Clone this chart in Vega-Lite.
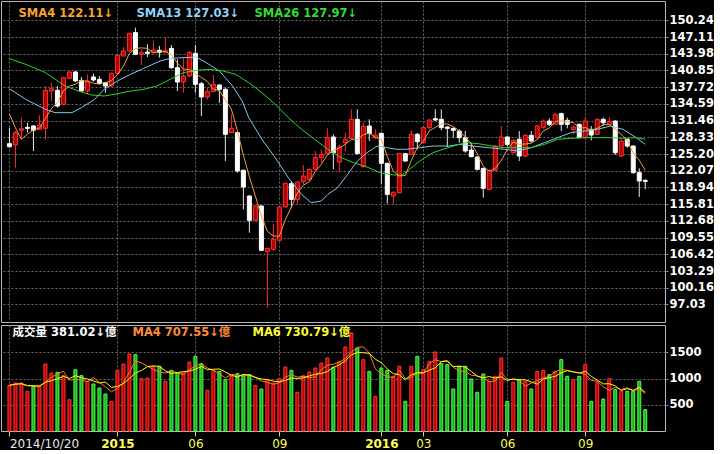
{
"$schema": "https://vega.github.io/schema/vega-lite/v6.json",
"background": "#000000",
"padding": 0,
"spacing": 1,
"config": {
  "view": {"stroke": "#b8b8b8", "strokeWidth": 1},
  "font": "DejaVu Sans",
  "axis": {"gridColor": "#6a6a6a", "gridDash": [2, 2], "gridWidth": 1, "domain": false, "labelColor": "#ffffff", "labelFont": "DejaVu Sans", "title": null}
},
"resolve": {"scale": {"color": "independent"}, "legend": {"color": "independent"}},
"datasets": {
"k": [
{"i":0,"o":127.14,"h":130.14,"l":126.39,"c":126.58,"v":871,"vd":"up"},
{"i":1,"o":126.89,"h":129.51,"l":122.65,"c":129.20,"v":916,"vd":"up"},
{"i":2,"o":129.64,"h":132.01,"l":127.95,"c":129.95,"v":916,"vd":"up"},
{"i":3,"o":130.20,"h":131.07,"l":129.20,"c":130.01,"v":757,"vd":"up"},
{"i":4,"o":130.45,"h":130.64,"l":125.77,"c":129.64,"v":852,"vd":"down"},
{"i":5,"o":129.83,"h":132.45,"l":129.70,"c":130.64,"v":852,"vd":"up"},
{"i":6,"o":130.01,"h":137.94,"l":127.95,"c":137.13,"v":1278,"vd":"up"},
{"i":7,"o":137.00,"h":138.57,"l":135.13,"c":137.44,"v":1107,"vd":"up"},
{"i":8,"o":137.13,"h":137.94,"l":133.88,"c":134.19,"v":1119,"vd":"down"},
{"i":9,"o":134.51,"h":139.63,"l":134.38,"c":139.50,"v":1056,"vd":"up"},
{"i":10,"o":139.38,"h":140.75,"l":139.31,"c":140.56,"v":598,"vd":"up"},
{"i":11,"o":140.56,"h":140.75,"l":138.75,"c":138.88,"v":1170,"vd":"down"},
{"i":12,"o":139.00,"h":139.63,"l":136.88,"c":137.00,"v":1056,"vd":"down"},
{"i":13,"o":137.00,"h":140.13,"l":136.38,"c":138.88,"v":948,"vd":"up"},
{"i":14,"o":139.63,"h":140.25,"l":138.75,"c":139.06,"v":897,"vd":"down"},
{"i":15,"o":139.19,"h":139.81,"l":138.25,"c":138.38,"v":820,"vd":"down"},
{"i":16,"o":138.56,"h":138.69,"l":136.69,"c":137.94,"v":706,"vd":"down"},
{"i":17,"o":137.94,"h":140.44,"l":137.82,"c":140.31,"v":566,"vd":"up"},
{"i":18,"o":140.31,"h":143.87,"l":140.13,"c":143.68,"v":1157,"vd":"up"},
{"i":19,"o":143.56,"h":145.25,"l":143.50,"c":144.50,"v":1278,"vd":"up"},
{"i":20,"o":144.50,"h":147.93,"l":144.37,"c":147.80,"v":1469,"vd":"up"},
{"i":21,"o":147.93,"h":148.87,"l":143.75,"c":143.87,"v":1456,"vd":"down"},
{"i":22,"o":143.87,"h":144.81,"l":141.87,"c":144.18,"v":999,"vd":"up"},
{"i":23,"o":144.31,"h":145.74,"l":143.37,"c":144.06,"v":1011,"vd":"up"},
{"i":24,"o":144.18,"h":146.49,"l":144.00,"c":144.68,"v":1234,"vd":"up"},
{"i":25,"o":144.62,"h":145.43,"l":143.25,"c":144.25,"v":1234,"vd":"down"},
{"i":26,"o":144.25,"h":146.99,"l":144.18,"c":144.62,"v":948,"vd":"up"},
{"i":27,"o":144.99,"h":145.62,"l":141.19,"c":141.37,"v":1157,"vd":"down"},
{"i":28,"o":141.37,"h":142.93,"l":137.00,"c":138.69,"v":1107,"vd":"down"},
{"i":29,"o":138.69,"h":143.25,"l":136.69,"c":139.81,"v":1107,"vd":"up"},
{"i":30,"o":139.81,"h":144.50,"l":139.63,"c":144.18,"v":1316,"vd":"up"},
{"i":31,"o":144.06,"h":145.62,"l":136.69,"c":138.25,"v":1425,"vd":"down"},
{"i":32,"o":138.38,"h":138.69,"l":132.32,"c":135.88,"v":1285,"vd":"down"},
{"i":33,"o":135.88,"h":137.63,"l":135.44,"c":136.88,"v":776,"vd":"up"},
{"i":34,"o":136.88,"h":140.00,"l":136.82,"c":138.25,"v":1157,"vd":"up"},
{"i":35,"o":138.13,"h":138.25,"l":134.82,"c":137.32,"v":1138,"vd":"down"},
{"i":36,"o":137.32,"h":137.63,"l":123.89,"c":128.89,"v":979,"vd":"down"},
{"i":37,"o":129.20,"h":132.63,"l":129.14,"c":130.01,"v":1043,"vd":"up"},
{"i":38,"o":129.20,"h":129.32,"l":121.71,"c":122.02,"v":1094,"vd":"down"},
{"i":39,"o":122.15,"h":122.27,"l":114.84,"c":119.02,"v":1075,"vd":"down"},
{"i":40,"o":117.34,"h":117.46,"l":110.47,"c":112.78,"v":1075,"vd":"down"},
{"i":41,"o":112.78,"h":115.59,"l":112.66,"c":115.47,"v":865,"vd":"up"},
{"i":42,"o":115.47,"h":115.59,"l":107.04,"c":107.16,"v":801,"vd":"down"},
{"i":43,"o":106.91,"h":107.66,"l":96.42,"c":107.54,"v":979,"vd":"up"},
{"i":44,"o":107.35,"h":112.16,"l":107.04,"c":109.22,"v":916,"vd":"up"},
{"i":45,"o":109.04,"h":115.40,"l":108.91,"c":115.28,"v":999,"vd":"up"},
{"i":46,"o":115.28,"h":119.84,"l":115.15,"c":119.71,"v":1221,"vd":"up"},
{"i":47,"o":119.65,"h":120.15,"l":115.15,"c":116.71,"v":1157,"vd":"down"},
{"i":48,"o":116.71,"h":120.09,"l":115.78,"c":119.96,"v":738,"vd":"up"},
{"i":49,"o":120.02,"h":123.14,"l":119.52,"c":121.08,"v":1056,"vd":"up"},
{"i":50,"o":120.46,"h":122.46,"l":120.15,"c":122.33,"v":1126,"vd":"up"},
{"i":51,"o":122.33,"h":125.77,"l":122.21,"c":124.52,"v":1202,"vd":"up"},
{"i":52,"o":124.52,"h":126.08,"l":123.58,"c":125.14,"v":1297,"vd":"up"},
{"i":53,"o":125.27,"h":130.01,"l":125.14,"c":128.26,"v":1393,"vd":"up"},
{"i":54,"o":128.39,"h":128.89,"l":122.33,"c":125.45,"v":1215,"vd":"down"},
{"i":55,"o":123.71,"h":127.02,"l":121.90,"c":126.52,"v":1329,"vd":"up"},
{"i":56,"o":127.33,"h":129.20,"l":125.77,"c":127.95,"v":1603,"vd":"up"},
{"i":57,"o":128.14,"h":133.57,"l":127.95,"c":131.70,"v":1870,"vd":"up"},
{"i":58,"o":131.70,"h":133.57,"l":125.14,"c":125.27,"v":1584,"vd":"down"},
{"i":59,"o":122.83,"h":131.07,"l":122.65,"c":130.39,"v":1361,"vd":"up"},
{"i":60,"o":130.45,"h":131.70,"l":127.64,"c":129.01,"v":1138,"vd":"down"},
{"i":61,"o":128.26,"h":129.83,"l":127.95,"c":128.76,"v":661,"vd":"up"},
{"i":62,"o":129.08,"h":129.20,"l":119.52,"c":123.46,"v":1202,"vd":"down"},
{"i":63,"o":123.46,"h":123.58,"l":115.90,"c":117.65,"v":1157,"vd":"down"},
{"i":64,"o":117.34,"h":118.27,"l":115.78,"c":117.96,"v":1043,"vd":"up"},
{"i":65,"o":117.96,"h":125.39,"l":117.84,"c":125.27,"v":1234,"vd":"up"},
{"i":66,"o":125.27,"h":125.39,"l":123.77,"c":123.89,"v":566,"vd":"down"},
{"i":67,"o":125.14,"h":129.64,"l":125.02,"c":128.89,"v":1234,"vd":"up"},
{"i":68,"o":128.89,"h":129.14,"l":126.08,"c":127.51,"v":1425,"vd":"down"},
{"i":69,"o":127.33,"h":130.26,"l":127.14,"c":130.14,"v":1170,"vd":"up"},
{"i":70,"o":130.14,"h":131.70,"l":129.83,"c":131.57,"v":1329,"vd":"up"},
{"i":71,"o":131.82,"h":133.57,"l":131.39,"c":131.57,"v":1507,"vd":"up"},
{"i":72,"o":131.70,"h":133.57,"l":129.64,"c":130.14,"v":1285,"vd":"down"},
{"i":73,"o":130.26,"h":130.39,"l":126.52,"c":130.01,"v":1266,"vd":"down"},
{"i":74,"o":130.01,"h":130.14,"l":128.26,"c":129.64,"v":801,"vd":"down"},
{"i":75,"o":129.51,"h":129.82,"l":127.33,"c":128.26,"v":1234,"vd":"down"},
{"i":76,"o":128.26,"h":129.51,"l":125.45,"c":125.77,"v":1234,"vd":"down"},
{"i":77,"o":125.95,"h":127.33,"l":124.64,"c":124.70,"v":992,"vd":"down"},
{"i":78,"o":124.64,"h":124.77,"l":122.14,"c":122.33,"v":738,"vd":"down"},
{"i":79,"o":122.52,"h":122.64,"l":117.03,"c":118.77,"v":1087,"vd":"down"},
{"i":80,"o":118.59,"h":122.27,"l":118.40,"c":122.14,"v":948,"vd":"up"},
{"i":81,"o":122.14,"h":126.83,"l":122.02,"c":126.70,"v":1043,"vd":"up"},
{"i":82,"o":126.70,"h":130.45,"l":126.64,"c":128.39,"v":1393,"vd":"up"},
{"i":83,"o":128.39,"h":128.51,"l":126.70,"c":127.01,"v":566,"vd":"down"},
{"i":84,"o":125.45,"h":127.95,"l":125.27,"c":127.76,"v":928,"vd":"up"},
{"i":85,"o":127.95,"h":129.51,"l":123.89,"c":124.83,"v":979,"vd":"down"},
{"i":86,"o":124.83,"h":128.89,"l":124.52,"c":128.70,"v":948,"vd":"up"},
{"i":87,"o":128.70,"h":129.51,"l":127.33,"c":127.64,"v":801,"vd":"down"},
{"i":88,"o":128.26,"h":130.57,"l":128.14,"c":130.45,"v":1138,"vd":"up"},
{"i":89,"o":130.14,"h":131.70,"l":129.95,"c":131.38,"v":1157,"vd":"up"},
{"i":90,"o":131.38,"h":131.88,"l":130.45,"c":130.76,"v":1075,"vd":"down"},
{"i":91,"o":130.76,"h":132.82,"l":130.64,"c":132.63,"v":1138,"vd":"up"},
{"i":92,"o":132.76,"h":132.95,"l":129.51,"c":130.76,"v":1361,"vd":"down"},
{"i":93,"o":131.51,"h":132.01,"l":130.01,"c":130.76,"v":1043,"vd":"down"},
{"i":94,"o":129.82,"h":130.57,"l":128.89,"c":130.26,"v":979,"vd":"up"},
{"i":95,"o":130.76,"h":130.89,"l":128.14,"c":128.26,"v":1043,"vd":"down"},
{"i":96,"o":128.26,"h":132.13,"l":127.95,"c":131.38,"v":1266,"vd":"up"},
{"i":97,"o":129.82,"h":130.45,"l":127.76,"c":128.76,"v":566,"vd":"down"},
{"i":98,"o":128.89,"h":131.82,"l":128.76,"c":131.70,"v":928,"vd":"up"},
{"i":99,"o":131.70,"h":132.01,"l":130.45,"c":131.07,"v":610,"vd":"down"},
{"i":100,"o":130.76,"h":132.13,"l":130.70,"c":131.26,"v":999,"vd":"up"},
{"i":101,"o":131.38,"h":131.51,"l":125.02,"c":125.45,"v":789,"vd":"down"},
{"i":102,"o":124.83,"h":127.95,"l":124.64,"c":127.64,"v":757,"vd":"up"},
{"i":103,"o":127.95,"h":128.08,"l":126.39,"c":126.70,"v":757,"vd":"down"},
{"i":104,"o":126.70,"h":126.83,"l":121.52,"c":121.71,"v":757,"vd":"down"},
{"i":105,"o":121.71,"h":122.52,"l":117.15,"c":120.15,"v":948,"vd":"down"},
{"i":106,"o":120.27,"h":120.46,"l":118.59,"c":120.08,"v":407,"vd":"down"}
],
"ma": [
{"s":"SMA4 122.11↓","i":0,"v":132.7},{"s":"SMA4 122.11↓","i":1,"v":130.1},{"s":"SMA4 122.11↓","i":2,"v":127.95},{"s":"SMA4 122.11↓","i":3,"v":128.94},
{"s":"SMA13 127.03↓","i":0,"v":137.44},{"s":"SMA13 127.03↓","i":2.7,"v":135.44},{"s":"SMA13 127.03↓","i":6,"v":133.57},{"s":"SMA13 127.03↓","i":7.6,"v":132.95},{"s":"SMA13 127.03↓","i":10.4,"v":132.95},{"s":"SMA13 127.03↓","i":12,"v":133.88},{"s":"SMA13 127.03↓","i":14.2,"v":135.44},{"s":"SMA13 127.03↓","i":15.8,"v":137.32},{"s":"SMA13 127.03↓","i":18,"v":138.88},{"s":"SMA13 127.03↓","i":20.2,"v":140.13},{"s":"SMA13 127.03↓","i":22.4,"v":141.25},{"s":"SMA13 127.03↓","i":25.1,"v":142.62},{"s":"SMA13 127.03↓","i":26.8,"v":143.12},{"s":"SMA13 127.03↓","i":29,"v":143.25},{"s":"SMA13 127.03↓","i":31.2,"v":143.37},{"s":"SMA13 127.03↓","i":32.8,"v":142.31},{"s":"SMA13 127.03↓","i":35,"v":140.75},{"s":"SMA13 127.03↓","i":37.2,"v":137.94},{"s":"SMA13 127.03↓","i":38.8,"v":135.13},{"s":"SMA13 127.03↓","i":39.9,"v":132.01},{"s":"SMA13 127.03↓","i":42.1,"v":127.95},{"s":"SMA13 127.03↓","i":44.3,"v":124.52},{"s":"SMA13 127.03↓","i":46.5,"v":120.77},{"s":"SMA13 127.03↓","i":48.7,"v":117.65},{"s":"SMA13 127.03↓","i":50.3,"v":116.09},{"s":"SMA13 127.03↓","i":52,"v":116.40},{"s":"SMA13 127.03↓","i":53.1,"v":117.65},{"s":"SMA13 127.03↓","i":54.7,"v":118.90},{"s":"SMA13 127.03↓","i":56.4,"v":121.40},{"s":"SMA13 127.03↓","i":58,"v":123.89},{"s":"SMA13 127.03↓","i":59.6,"v":125.45},{"s":"SMA13 127.03↓","i":61.3,"v":126.70},{"s":"SMA13 127.03↓","i":62.9,"v":126.39},{"s":"SMA13 127.03↓","i":64.6,"v":126.08},{"s":"SMA13 127.03↓","i":66.2,"v":126.08},{"s":"SMA13 127.03↓","i":68.4,"v":126.39},{"s":"SMA13 127.03↓","i":70.6,"v":126.70},{"s":"SMA13 127.03↓","i":73.3,"v":126.70},{"s":"SMA13 127.03↓","i":75,"v":127.01},{"s":"SMA13 127.03↓","i":77.2,"v":126.70},{"s":"SMA13 127.03↓","i":79.9,"v":126.39},{"s":"SMA13 127.03↓","i":82.6,"v":126.08},{"s":"SMA13 127.03↓","i":84.8,"v":125.77},{"s":"SMA13 127.03↓","i":87,"v":126.39},{"s":"SMA13 127.03↓","i":89.2,"v":127.33},{"s":"SMA13 127.03↓","i":91.4,"v":128.26},{"s":"SMA13 127.03↓","i":93.6,"v":129.20},{"s":"SMA13 127.03↓","i":95.8,"v":129.51},{"s":"SMA13 127.03↓","i":98,"v":129.82},{"s":"SMA13 127.03↓","i":100.2,"v":130.45},{"s":"SMA13 127.03↓","i":102.3,"v":129.82},{"s":"SMA13 127.03↓","i":104.5,"v":128.26},{"s":"SMA13 127.03↓","i":106,"v":127.03},
{"s":"SMA26 127.97↓","i":0,"v":143.06},{"s":"SMA26 127.97↓","i":2.7,"v":142.0},{"s":"SMA26 127.97↓","i":6,"v":140.44},{"s":"SMA26 127.97↓","i":9.3,"v":137.94},{"s":"SMA26 127.97↓","i":11.5,"v":137.00},{"s":"SMA26 127.97↓","i":13.7,"v":136.25},{"s":"SMA26 127.97↓","i":15.8,"v":136.07},{"s":"SMA26 127.97↓","i":18,"v":136.50},{"s":"SMA26 127.97↓","i":20.2,"v":137.00},{"s":"SMA26 127.97↓","i":22.4,"v":137.32},{"s":"SMA26 127.97↓","i":24.6,"v":137.94},{"s":"SMA26 127.97↓","i":26.8,"v":139.19},{"s":"SMA26 127.97↓","i":29,"v":140.44},{"s":"SMA26 127.97↓","i":31.2,"v":140.87},{"s":"SMA26 127.97↓","i":33.4,"v":141.06},{"s":"SMA26 127.97↓","i":35.6,"v":140.75},{"s":"SMA26 127.97↓","i":37.7,"v":140.13},{"s":"SMA26 127.97↓","i":39.9,"v":138.56},{"s":"SMA26 127.97↓","i":42.1,"v":136.69},{"s":"SMA26 127.97↓","i":44.3,"v":134.51},{"s":"SMA26 127.97↓","i":46.5,"v":132.01},{"s":"SMA26 127.97↓","i":48.7,"v":129.82},{"s":"SMA26 127.97↓","i":50.9,"v":127.95},{"s":"SMA26 127.97↓","i":53.1,"v":126.08},{"s":"SMA26 127.97↓","i":55.3,"v":124.52},{"s":"SMA26 127.97↓","i":57.4,"v":123.58},{"s":"SMA26 127.97↓","i":59.6,"v":122.77},{"s":"SMA26 127.97↓","i":61.8,"v":121.71},{"s":"SMA26 127.97↓","i":64,"v":121.27},{"s":"SMA26 127.97↓","i":65.4,"v":121.27},{"s":"SMA26 127.97↓","i":66.7,"v":122.33},{"s":"SMA26 127.97↓","i":68.4,"v":123.89},{"s":"SMA26 127.97↓","i":70.6,"v":125.45},{"s":"SMA26 127.97↓","i":72.8,"v":126.27},{"s":"SMA26 127.97↓","i":74.9,"v":127.0},{"s":"SMA26 127.97↓","i":76.1,"v":127.33},{"s":"SMA26 127.97↓","i":78.2,"v":127.14},{"s":"SMA26 127.97↓","i":80.4,"v":126.70},{"s":"SMA26 127.97↓","i":82.6,"v":126.39},{"s":"SMA26 127.97↓","i":84.8,"v":126.39},{"s":"SMA26 127.97↓","i":87,"v":126.39},{"s":"SMA26 127.97↓","i":89.2,"v":127.01},{"s":"SMA26 127.97↓","i":91.4,"v":127.95},{"s":"SMA26 127.97↓","i":93.6,"v":128.14},{"s":"SMA26 127.97↓","i":95.8,"v":128.26},{"s":"SMA26 127.97↓","i":98,"v":128.26},{"s":"SMA26 127.97↓","i":100.2,"v":128.26},{"s":"SMA26 127.97↓","i":102.3,"v":128.14},{"s":"SMA26 127.97↓","i":104.5,"v":128.26},{"s":"SMA26 127.97↓","i":106,"v":127.97}
]
},
"vconcat": [
{
  "width": 664,
  "height": 321,
  "layer": [
    {
      "data": {"name": "k"},
      "mark": {"type": "rule", "strokeWidth": 1},
      "encoding": {
        "x": {"field": "i", "type": "quantitative", "scale": {"domain": [-0.575, 108.46], "nice": false, "zero": false},
              "axis": {"orient": "bottom", "values": [0, 18, 31, 45, 62, 69, 83, 96], "tickCount": 40, "labels": false, "ticks": false, "grid": true}},
        "y": {"field": "l", "type": "quantitative", "scale": {"domain": [93.74, 153.86], "nice": false, "zero": false},
              "axis": {"orient": "right", "values": [97.03, 100.16, 103.29, 106.42, 109.55, 112.68, 115.81, 118.94, 122.07, 125.2, 128.33, 131.46, 134.59, 137.72, 140.85, 143.98, 147.11, 150.24],
                       "tickCount": 40, "format": ".2f", "grid": true, "tickSize": 3, "tickColor": "#8a8a8a", "labelPadding": 1, "labelFontWeight": "bold", "labelFontSize": 11.5, "labelOverlap": false, "labelBound": false}},
        "y2": {"field": "h"},
        "color": {"condition": {"test": "datum.c >= datum.o", "value": "#ff2b2b"}, "value": "#e8e8e8"}
      }
    },
    {
      "data": {"name": "k"},
      "mark": {"type": "bar", "width": 4, "strokeWidth": 1},
      "encoding": {
        "x": {"field": "i", "type": "quantitative"},
        "y": {"field": "o", "type": "quantitative"},
        "y2": {"field": "c"},
        "fill": {"condition": {"test": "datum.c >= datum.o", "value": "#b00000"}, "value": "#ffffff"},
        "stroke": {"condition": {"test": "datum.c >= datum.o", "value": "#ff3030"}, "value": "#ffffff"}
      }
    },
    {
      "data": {"name": "ma"},
      "mark": {"type": "line", "strokeWidth": 1},
      "encoding": {
        "x": {"field": "i", "type": "quantitative"},
        "y": {"field": "v", "type": "quantitative"},
        "color": {"field": "s", "type": "nominal",
                  "scale": {"domain": ["SMA4 122.11↓", "SMA13 127.03↓", "SMA26 127.97↓"], "range": ["#f0a040", "#80c8ea", "#2fd12f"]},
                  "legend": {"orient": "none", "legendX": 6, "legendY": 7, "direction": "horizontal", "title": null,
                             "symbolSize": 0, "symbolStrokeWidth": 0, "labelOffset": 0, "padding": 0,
                             "labelFont": "DejaVu Sans", "labelFontWeight": "bold", "labelFontSize": 11.5,
                             "gridAlign": "all", "columnPadding": 3,
                             "labelColor": {"expr": "indexof(datum.label, 'SMA4') == 0 ? '#f5a334' : indexof(datum.label, 'SMA13') == 0 ? '#8fd3f7' : '#33dd33'"}}},
        "detail": {"field": "s"}
      }
    },
    {
      "data": {"name": "k"},
      "transform": [
        {"window": [{"op": "mean", "field": "c", "as": "s4"}], "frame": [-3, 0], "sort": [{"field": "i"}]},
        {"filter": "datum.i >= 3"}
      ],
      "mark": {"type": "line", "strokeWidth": 1},
      "encoding": {
        "x": {"field": "i", "type": "quantitative"},
        "y": {"field": "s4", "type": "quantitative"},
        "color": {"datum": "SMA4 122.11↓"}
      }
    }
  ]
},
{
  "width": 664,
  "height": 106,
  "data": {"name": "k"},
  "layer": [
    {
      "mark": {"type": "bar", "width": 3, "strokeWidth": 1},
      "encoding": {
        "x": {"field": "i", "type": "quantitative", "scale": {"domain": [-0.575, 108.46], "nice": false, "zero": false},
              "axis": {"values": [0, 18, 31, 45, 62, 69, 83, 96], "tickCount": 40,
                       "labelExpr": "datum.value == 0 ? '2014/10/20' : datum.value == 18 ? '2015' : datum.value == 31 ? '06' : datum.value == 45 ? '09' : datum.value == 62 ? '2016' : datum.value == 69 ? '03' : datum.value == 83 ? '06' : '09'",
                       "grid": true, "tickSize": 5, "tickColor": "#d8d860", "labelOverlap": false, "labelPadding": 2, "labelFontSize": 12,
                       "labelAlign": {"condition": {"test": "datum.value == 0", "value": "left"}, "value": "center"},
                       "labelColor": {"condition": {"test": "datum.value == 0", "value": "#e8e8e8"}, "value": "#ffff55"},
                       "labelFontWeight": {"condition": {"test": "datum.value == 18 || datum.value == 62", "value": "bold"}, "value": "normal"}}},
        "y": {"field": "v", "type": "quantitative", "scale": {"domain": [0, 2022], "nice": false},
              "axis": {"orient": "right", "values": [500, 1000, 1500], "tickCount": 10, "format": "d", "grid": true, "tickSize": 3, "tickColor": "#8a8a8a", "labelPadding": 1, "labelFontWeight": "bold", "labelFontSize": 11.5}},
        "fill": {"condition": {"test": "datum.vd == 'up'", "value": "#c40000"}, "value": "#18b818"},
        "stroke": {"condition": {"test": "datum.vd == 'up'", "value": "#ff3434"}, "value": "#55f555"}
      }
    },
    {
      "transform": [{"window": [{"op": "mean", "field": "v", "as": "m4"}], "frame": [-3, 0], "sort": [{"field": "i"}]}],
      "mark": {"type": "line", "strokeWidth": 1},
      "encoding": {
        "x": {"field": "i", "type": "quantitative"},
        "y": {"field": "m4", "type": "quantitative"},
        "color": {"datum": "MA4 707.55↓億",
                  "scale": {"domain": ["成交量 381.02↓億", "MA4 707.55↓億", "MA6 730.79↓億"], "range": ["#ffffff", "#ff7a2a", "#ffff00"]},
                  "legend": {"orient": "none", "legendX": 0, "legendY": 2, "direction": "horizontal", "title": null,
                             "symbolSize": 0, "symbolStrokeWidth": 0, "labelOffset": 0, "padding": 0,
                             "labelFont": "DejaVu Sans, Noto Sans CJK TC", "labelFontWeight": "bold", "labelFontSize": 11.5,
                             "gridAlign": "all", "columnPadding": 4,
                             "labelColor": {"expr": "indexof(datum.label, 'MA4') == 0 ? '#ff8c3a' : indexof(datum.label, 'MA6') == 0 ? '#ffff33' : '#ffffff'"}}}
      }
    },
    {
      "transform": [{"window": [{"op": "mean", "field": "v", "as": "m6"}], "frame": [-5, 0], "sort": [{"field": "i"}]}],
      "mark": {"type": "line", "strokeWidth": 1},
      "encoding": {
        "x": {"field": "i", "type": "quantitative"},
        "y": {"field": "m6", "type": "quantitative"},
        "color": {"datum": "MA6 730.79↓億"}
      }
    }
  ]
}
]
}
